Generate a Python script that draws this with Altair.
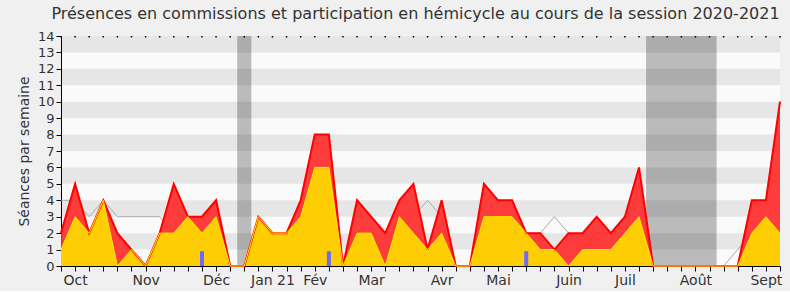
import altair as alt
import pandas as pd

weeks = list(range(52))
total = [2, 5, 2, 4, 2, 1, 0, 2, 5, 3, 3, 4, 0,
         0,
         3, 2, 2, 4, 8, 8,
         0,
         4, 3, 2, 4, 5, 1, 4,
         0, 0,
         5, 4, 4, 2, 2, 1, 2, 2, 3, 2, 3, 6,
         0, 0, 0, 0, 0, 0, 0,
         4, 4, 10]
commission = [1, 3, 2, 4, 0, 1, 0, 2, 2, 3, 2, 3, 0,
              0,
              3, 2, 2, 3, 6, 6,
              0,
              2, 2, 0, 3, 2, 1, 2,
              0, 0,
              3, 3, 3, 2, 1, 1, 0, 1, 1, 1, 2, 3,
              0, 0, 0, 0, 0, 0, 0,
              2, 3, 2]
median = [4, 4, 3, 4, 3, 3, 3, 3, 2, 2, 2, 2, 0,
          0,
          2, 2, 2, 3, 4, 3,
          0,
          2, 3, 2, 2, 3, 4, 3,
          0, 0,
          3, 3, 2, 2, 2, 3, 2, 1, 2, 2, 2, 5,
          0, 0, 0, 0, 0, 0, 1,
          2, 2, 2]
question_weeks = [10, 19, 33]
question_values = [0.9, 0.9, 0.9]

vacation_start = [12.5, 41.5]
vacation_end = [13.5, 46.5]

month_weeks = [1, 6, 11, 15, 18, 22, 27, 31, 36, 40, 45, 50]
month_names = ["Oct", "Nov", "Déc", "Jan 21", "Fév", "Mar", "Avr", "Mai",
               "Juin", "Juil", "Août", "Sept"]

band_low = [1, 3, 5, 7, 9, 11, 13]

df = pd.DataFrame({"week": weeks, "total": total, "commission": commission,
                   "median": median})
dq = pd.DataFrame({"week": question_weeks, "value": question_values})
dv = pd.DataFrame({"start": vacation_start, "end": vacation_end})
db = pd.DataFrame({"lo": band_low, "hi": [b + 1 for b in band_low]})
dt = pd.DataFrame({"week": weeks})

label_expr = "".join(
    f"datum.value == {w} ? '{n}' : " for w, n in zip(month_weeks, month_names)
) + "''"

FONT = "DejaVu Sans"
xscale = alt.Scale(domain=[0, 51], nice=False, zero=False, padding=0)
yscale = alt.Scale(domain=[0, 14], nice=False)

xaxis = alt.Axis(values=weeks, labelExpr=label_expr, labelOverlap=False,
                 labelFlush=False, tickSize=5, tickColor="black",
                 domainColor="black", labelFontSize=14, labelColor="#333333",
                 labelFont=FONT, grid=False, title=None, labelPadding=2)
yaxis = alt.Axis(values=list(range(15)), tickSize=5, tickColor="black",
                 domainColor="black", labelFontSize=13, labelColor="#333333",
                 labelFont=FONT, grid=False, title="Séances par semaine",
                 titleFontSize=14, titleFont=FONT, titleFontWeight="normal",
                 titleColor="#333333", titlePadding=6)

vac = alt.Chart(dv).mark_rect(color="#bbbbbb").encode(
    x=alt.X("start:Q", scale=xscale, axis=xaxis),
    x2="end:Q",
)
bands = alt.Chart(db).mark_rect(color="black", opacity=0.08).encode(
    y=alt.Y("lo:Q", scale=yscale, axis=yaxis),
    y2="hi:Q",
)
base = alt.Chart(df).encode(x=alt.X("week:Q", scale=xscale, axis=xaxis))
med = base.mark_line(color="#aaaaaa", strokeWidth=1).encode(
    y=alt.Y("median:Q", scale=yscale, axis=yaxis))
red_area = base.mark_area(color="#ff2828", opacity=0.9).encode(
    y=alt.Y("total:Q", scale=yscale, axis=yaxis))
yel_area = base.mark_area(color="#ffd500", opacity=0.95).encode(
    y=alt.Y("commission:Q", scale=yscale, axis=yaxis))
red_line = base.mark_line(color="#ff0000", strokeWidth=2).encode(
    y=alt.Y("total:Q", scale=yscale, axis=yaxis))
yel_line = base.mark_line(color="#ffee00", strokeWidth=1).encode(
    y=alt.Y("commission:Q", scale=yscale, axis=yaxis))
bars = alt.Chart(dq).mark_bar(color="#6b6bff", size=4).encode(
    x=alt.X("week:Q", scale=xscale, axis=xaxis),
    y=alt.Y("value:Q", scale=yscale, axis=yaxis),
)
dots = alt.Chart(dt).mark_rule(color="black", strokeWidth=1.5).encode(
    x=alt.X("week:Q", scale=xscale, axis=xaxis),
    y=alt.value(0), y2=alt.value(1.5),
)

chart = alt.layer(vac, bands, med, red_area, yel_area, red_line, yel_line,
                  bars, dots).properties(
    width=719, height=230,
    title=alt.TitleParams(
        "Présences en commissions et participation en hémicycle au cours de la session 2020-2021",
        font=FONT, fontSize=16, fontWeight="normal", color="#333333",
        anchor="middle", frame="group", dx=-5, offset=8),
    autosize=alt.AutoSizeParams(type="none"),
    padding={"left": 61, "top": 36, "right": 10, "bottom": 25},
    background="#f0f0f0",
).configure_view(fill="#fafafa", stroke=None)

chart.save("out.html", embed_options={"renderer": "svg", "actions": False})
